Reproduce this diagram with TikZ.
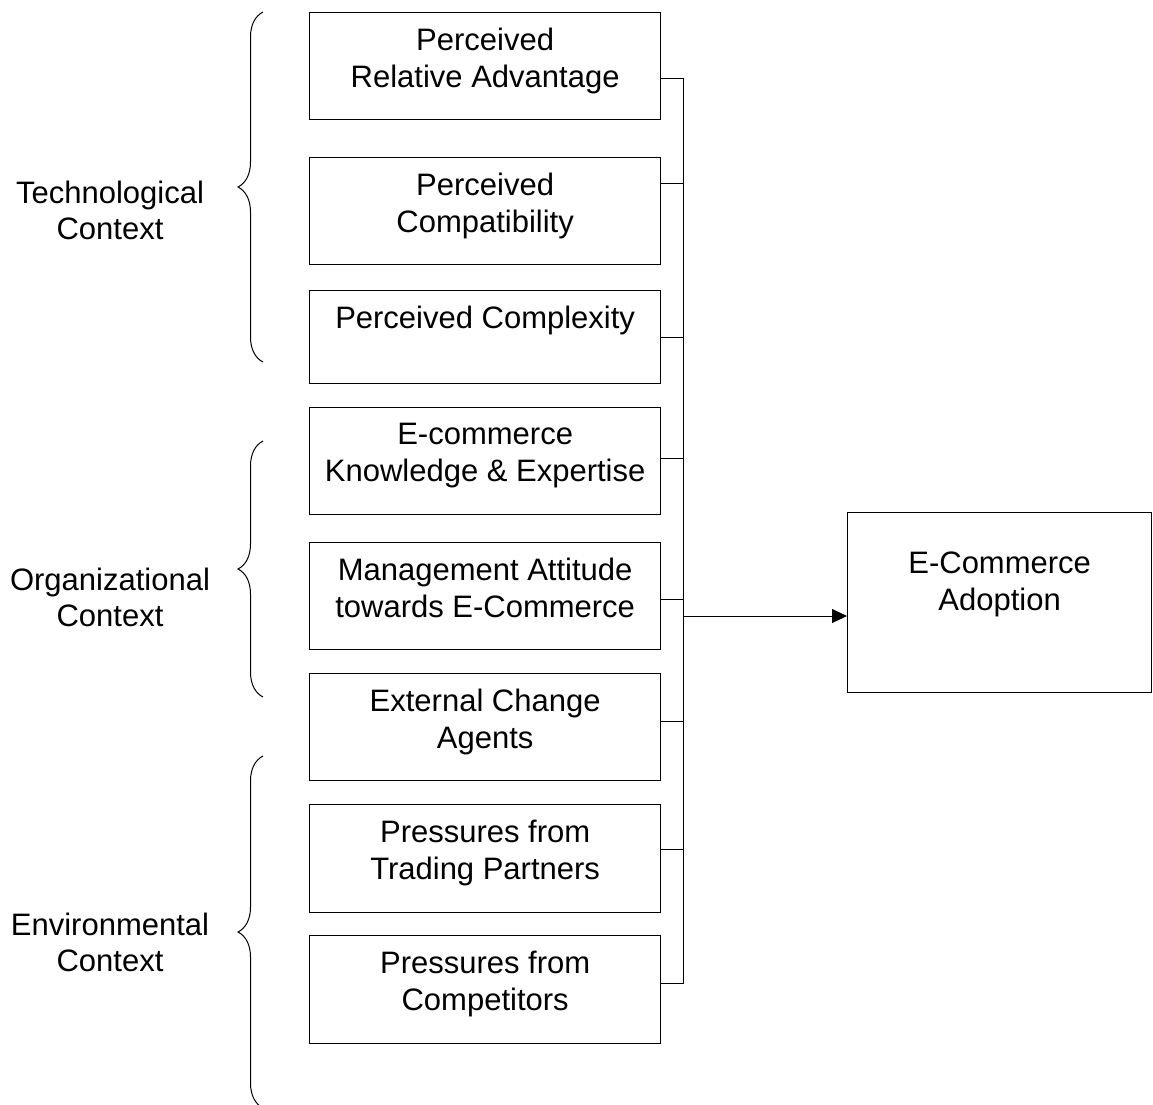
\documentclass[tikz,border=0pt]{standalone}
\usepackage{fontspec}
\setmainfont{Liberation Sans}
\usetikzlibrary{arrows.meta,decorations.pathreplacing}

\tikzset{
  factor/.style={draw, line width=1.3pt, anchor=north west, minimum width=351pt, minimum height=107pt, inner sep=0pt},
  ftext/.style={anchor=north, align=center, inner sep=0pt, yshift=-16pt},
  context/.style={anchor=north, align=center, inner sep=0pt},
  curly/.style={decorate, decoration={brace, amplitude=25pt}, line width=1pt},
  link/.style={line width=1pt},
}

\begin{document}
\begin{tikzpicture}[x=1pt, y=-1pt, every node/.append style={font=\fontsize{31pt}{36.5pt}\selectfont}]
	\useasboundingbox (0,0) rectangle (1153,1104);
	\node[factor, label={[ftext]north:Perceived\\Relative Advantage}] (pra) at (309,12) {};
	\node[factor, label={[ftext]north:Perceived\\Compatibility}] (pcp) at (309,157) {};
	\node[factor, minimum height=93pt, label={[ftext]north:Perceived Complexity}] (pcx) at (309,290) {};
	\node[factor, label={[ftext]north:E-commerce\\Knowledge \& Expertise}] (eke) at (309,407) {};
	\node[factor, label={[ftext]north:Management Attitude\\towards E-Commerce}] (mat) at (309,542) {};
	\node[factor, label={[ftext]north:External Change\\Agents}] (eca) at (309,673) {};
	\node[factor, minimum height=108pt, label={[ftext]north:Pressures from\\Trading Partners}] (ptp) at (309,804) {};
	\node[factor, minimum height=108pt, label={[ftext]north:Pressures from\\Competitors}] (pco) at (309,935) {};
	\node[factor, minimum width=304pt, minimum height=180pt, label={[ftext, yshift=-24pt]north:E-Commerce\\Adoption}] (ado) at (847,512) {};

	\node[context] (tech) at (110,180.5) {Technological\\Context};
	\node[context] (org) at (110,567.5) {Organizational\\Context};
	\node[context] (env) at (110,912.5) {Environmental\\Context};
	\draw[curly] (263,362) -- (263,12);
	\draw[curly] (263,697) -- (263,441);
	\draw[curly] (263,1108) -- (263,756);

	\coordinate (spine) at (683,0);
	\foreach \n/\a in {pra/-4, pcp/9, pcx/0, eke/1, mat/-1, eca/2, ptp/3, pco/2}
		\draw[link] (\n.\a) -- (\n.\a -| spine);
	\draw[link] (spine |- pra.-4) -- (spine |- pco.2);
	\draw[link, -{Triangle[length=15pt, width=14pt]}] (spine |- ado.185) -- (ado.185);
\end{tikzpicture}
\end{document}
